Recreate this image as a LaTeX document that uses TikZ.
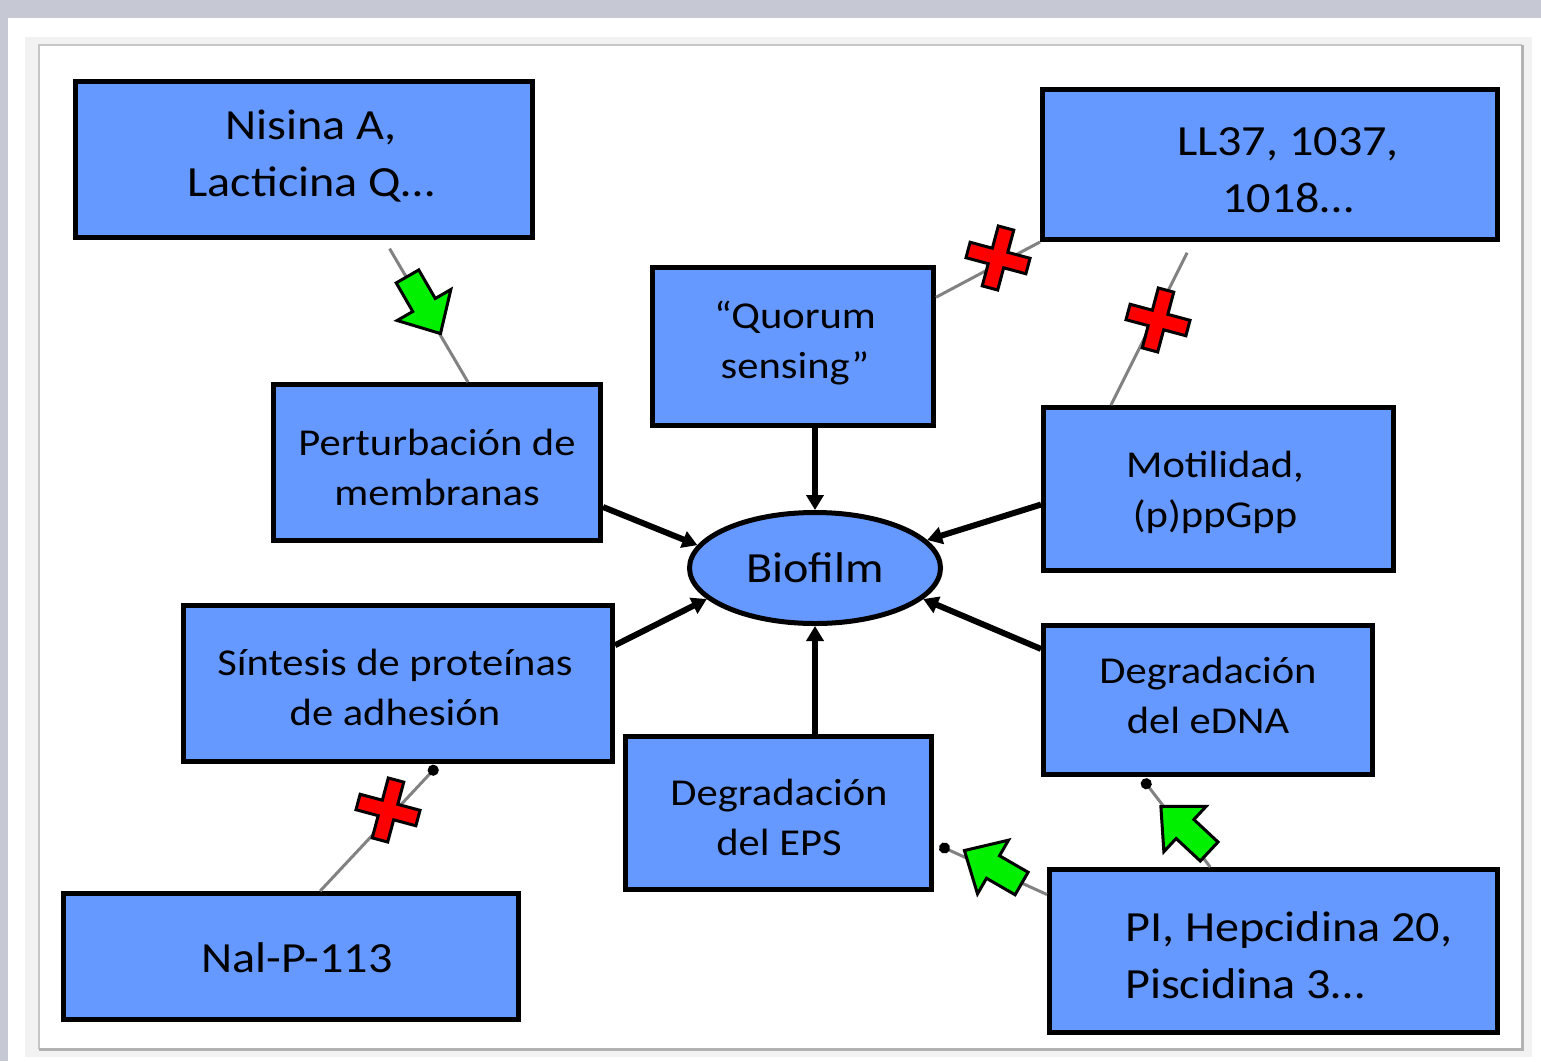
\documentclass[tikz,border=0pt]{standalone}
\usepackage{fontspec}
\setmainfont{Carlito}[FakeStretch=1.12]
\usetikzlibrary{arrows.meta,shapes.geometric,calc}
\definecolor{boxblue}{RGB}{102,153,255}
\definecolor{bggray}{RGB}{198,201,211}
\definecolor{arrgreen}{RGB}{0,240,0}
\definecolor{crossred}{RGB}{255,0,0}
\definecolor{linegray}{RGB}{130,130,130}
\begin{document}
\begin{tikzpicture}[x=1pt,y=-1pt,
  box/.style={draw=black,line width=5pt,fill=boxblue,inner sep=0pt,rectangle},
  lbl/.style={align=center,inner sep=0pt,font=\fontsize{38}{50}\selectfont},
  big/.style={font=\fontsize{43}{57}\selectfont},
  mainarrow/.style={draw=black,line width=6pt,-{Triangle[length=15pt,width=17pt]}},
  thinline/.style={draw=linegray,line width=3pt},
  enddot/.style={-{Circle[length=11pt,black]}},
  garrow/.pic={\filldraw[fill=arrgreen,draw=black,line width=3pt,line join=miter]
     (-33,13) -- (0,13) -- (0,31) -- (33,0) -- (0,-31) -- (0,-13) -- (-33,-13) -- cycle;},
  rcross/.pic={\filldraw[fill=crossred,draw=black,line width=3pt,line join=miter]
     (-8,-31) -- (8,-31) -- (8,-8) -- (31,-8) -- (31,8) -- (8,8) -- (8,31) -- (-8,31)
     -- (-8,8) -- (-31,8) -- (-31,-8) -- (-8,-8) -- cycle;}
]
\useasboundingbox (0,0) rectangle (1541,1061);
% background and frame
\fill[bggray] (0,0) rectangle (1541,1061);
\fill[white] (8,18) rectangle (1541,1061);
\fill[gray!10] (25,37) rectangle (1532,1057);
\fill[white] (40,46) rectangle (1521,1048);
\draw[gray!45,line width=2pt] (39,1049) -- (39,45) -- (1522,45);
\draw[gray!60,line width=3pt] (1522,45) -- (1522,1049) -- (39,1049);

% boxes
\node[box,minimum width=457pt,minimum height=156pt] (nis) at (304,159.5) {};
\node[box,minimum width=455pt,minimum height=150pt] (ll) at (1270,164.5) {};
\node[box,minimum width=281pt,minimum height=158pt] (qs) at (793,346.5) {};
\node[box,minimum width=327pt,minimum height=156pt] (pert) at (437,462.5) {};
\node[box,minimum width=350pt,minimum height=163pt] (mot) at (1218.5,489) {};
\node[box,minimum width=429pt,minimum height=156pt] (sin) at (398,683.5) {};
\node[box,minimum width=329pt,minimum height=149pt] (edna) at (1208,700) {};
\node[box,minimum width=306pt,minimum height=153pt] (eps) at (778.5,813) {};
\node[box,minimum width=455pt,minimum height=126pt] (nal) at (291,956.5) {};
\node[box,minimum width=448pt,minimum height=163pt] (pi) at (1273.5,951) {};
\node[draw=black,line width=5pt,fill=boxblue,ellipse,inner sep=0pt,
      minimum width=251pt,minimum height=111pt] (bio) at (815,568) {};

% texts
\node[lbl,big] (tnis) at (311,156) {Nisina A,\\Lacticina Q…};
\node[lbl,big] (tll) at (1288,170) {LL37, 1037,\\1018…};
\node[lbl] (tqs) at (795,343) {“Quorum\\sensing”};
\node[lbl] (tpert) at (437,467) {Perturbación de\\membranas};
\node[lbl] (tmot) at (1215,492) {Motilidad,\\(p)ppGpp};
\node[lbl] (tsin) at (395,687) {Síntesis de proteínas\\de adhesión};
\node[lbl] (tedna) at (1208,695) {Degradación\\del eDNA};
\node[lbl] (teps) at (779,817) {Degradación\\del EPS};
\node[lbl,big] (tnal) at (297,958) {Nal-P-113};
\node[lbl,big,align=left,anchor=west] (tpi) at (1125,955) {PI, Hepcidina 20,\\Piscidina 3…};
\node[lbl,big] (tbio) at (815,568) {Biofilm};

% main connectors
\draw[mainarrow] (pert.-15) -- (bio.169);
\draw[mainarrow] (qs.south -| bio.north) -- (bio.north);
\draw[mainarrow] (mot.185) -- (bio.14);
\draw[mainarrow] (sin.10) -- (bio.196);
\draw[mainarrow] (eps.north -| bio.south) -- (bio.south);
\draw[mainarrow] (edna.163) -- (bio.-16);

% thin connectors
\draw[thinline,shorten <=10pt] (nis.-45) -- (pert.69);
\draw[thinline] (ll.south west) -- (qs.19);
\draw[thinline,shorten <=12pt] (ll.-135) -- (mot.142);
\draw[thinline,enddot,shorten >=3pt] (nal.66) -- (sin.-63);
\draw[thinline,enddot,shorten >=6pt] (pi.166) -- (eps.-11);
\draw[thinline,enddot,shorten >=3pt] (pi.127) -- (edna.-131);

% symbols
\pic[rotate=-60] at (424,305) {garrow};
\pic[rotate=150] at (993,867) {garrow};
\pic[rotate=137] at (1185,829) {garrow};
\pic[rotate=-15] at (998,258) {rcross};
\pic[rotate=-15] at (1158,320) {rcross};
\pic[rotate=-15] at (388,810) {rcross};
\end{tikzpicture}
\end{document}
